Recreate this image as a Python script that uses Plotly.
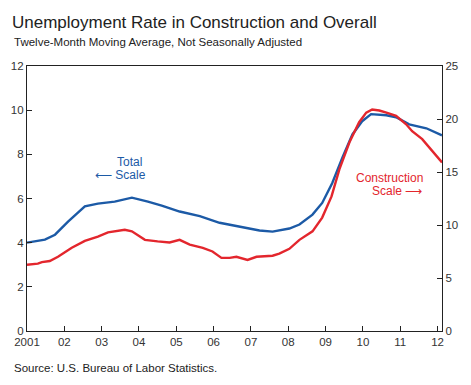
import plotly.graph_objects as go

# Total unemployment rate (left scale, percent), 12-month moving average
total_years = [2001.0, 2001.48, 2001.75, 2002.1, 2002.55, 2002.9, 2003.35, 2003.81, 2004.24,
               2004.61, 2005.09, 2005.63, 2006.16, 2006.7, 2007.23, 2007.58, 2008.03, 2008.3,
               2008.65, 2008.91, 2009.18, 2009.45, 2009.72, 2009.98, 2010.22, 2010.63, 2010.89,
               2011.24, 2011.7, 2012.12]
total_rate = [4.0, 4.14, 4.36, 4.95, 5.64, 5.77, 5.86, 6.04, 5.86,
              5.68, 5.41, 5.2, 4.9, 4.72, 4.55, 4.5, 4.64, 4.82,
              5.27, 5.8, 6.7, 7.85, 8.9, 9.5, 9.82, 9.77, 9.68,
              9.36, 9.18, 8.86]

# Construction unemployment rate (right scale, percent)
constr_years = [2001.0, 2001.29, 2001.4, 2001.61, 2001.83, 2002.2, 2002.55, 2002.9, 2003.17,
                2003.62, 2003.81, 2004.02, 2004.16, 2004.5, 2004.82, 2005.09, 2005.36, 2005.71,
                2005.97, 2006.21, 2006.43, 2006.61, 2006.91, 2007.15, 2007.58, 2007.76, 2008.03,
                2008.3, 2008.65, 2008.91, 2009.16, 2009.37, 2009.64, 2009.9, 2010.09, 2010.25,
                2010.44, 2010.63, 2010.89, 2011.16, 2011.32, 2011.59, 2011.86, 2012.12]
constr_rate = [6.25, 6.35, 6.5, 6.6, 7.0, 7.85, 8.5, 8.9, 9.3,
               9.55, 9.4, 8.9, 8.6, 8.45, 8.35, 8.6, 8.15, 7.85,
               7.5, 6.9, 6.9, 7.0, 6.7, 7.0, 7.1, 7.3, 7.75,
               8.6, 9.4, 10.7, 12.7, 15.25, 17.8, 19.7, 20.6, 20.9,
               20.8, 20.6, 20.3, 19.5, 18.85, 18.1, 17.0, 15.9]

x_tick_vals = list(range(2001, 2013))
x_tick_text = ["2001", "02", "03", "04", "05", "06", "07", "08", "09", "10", "11", "12"]
left_ticks = [0, 2, 4, 6, 8, 10, 12]
right_ticks = [0, 5, 10, 15, 20, 25]

BLUE = "#1c5aa6"
RED = "#e3262d"
FONT = "Liberation Sans, Arial, sans-serif"

fig = go.Figure()
fig.add_trace(go.Scatter(x=constr_years, y=constr_rate, mode="lines", yaxis="y2",
                         line=dict(color=RED, width=2.4), showlegend=False, hoverinfo="skip"))
fig.add_trace(go.Scatter(x=total_years, y=total_rate, mode="lines", yaxis="y",
                         line=dict(color=BLUE, width=2.4), showlegend=False, hoverinfo="skip"))

axis_common = dict(showgrid=False, zeroline=False, showline=True, linecolor="#222",
                   linewidth=1.3, ticks="inside", ticklen=5, tickcolor="#222",
                   automargin=False,
                   tickfont=dict(family=FONT, size=11.5, color="#333"))

# page body adds ~8px offset, so the figure is sized to fit the window after that offset
W, H = 463, 377
fig.update_layout(
    width=W, height=H,
    margin=dict(l=19, r=29, t=58, b=54, autoexpand=False),
    paper_bgcolor="white", plot_bgcolor="white",
    font=dict(family=FONT),
    title=dict(text="Unemployment Rate in Construction and Overall",
               x=4 / W, xanchor="left", y=1 - 14 / H, yanchor="middle",
               automargin=False,
               font=dict(family=FONT, size=17, color="#222")),
    xaxis=dict(range=[2001.0, 2012.12], tickvals=x_tick_vals, ticktext=x_tick_text,
               mirror=True, **axis_common),
    yaxis=dict(range=[0, 12], tickvals=left_ticks, mirror=False, **axis_common),
    yaxis2=dict(range=[0, 25], tickvals=right_ticks, overlaying="y", side="right",
                **axis_common),
)

annotations = [
    dict(text="Twelve-Month Moving Average, Not Seasonally Adjusted", xref="paper", yref="paper",
         x=-0.036, y=1.09, xanchor="left", yanchor="middle", showarrow=False,
         font=dict(family=FONT, size=11.5, color="#222")),
    dict(text="Source: U.S. Bureau of Labor Statistics.", xref="paper", yref="paper",
         x=-0.036, y=-0.14, xanchor="left", yanchor="middle", showarrow=False,
         font=dict(family=FONT, size=11.5, color="#222")),
    dict(text="Total", x=2003.75, y=7.64, xref="x", yref="y", showarrow=False,
         xanchor="center", yanchor="middle", font=dict(family=FONT, size=12, color=BLUE)),
    dict(text="⟵ Scale", x=2004.25, y=7.05, xref="x", yref="y", showarrow=False,
         xanchor="right", yanchor="middle", font=dict(family=FONT, size=12, color=BLUE)),
    dict(text="Construction", x=2010.71, y=6.95, xref="x", yref="y", showarrow=False,
         xanchor="center", yanchor="middle", font=dict(family=FONT, size=12, color=RED)),
    dict(text="Scale ⟶", x=2011.64, y=6.36, xref="x", yref="y", showarrow=False,
         xanchor="right", yanchor="middle", font=dict(family=FONT, size=12, color=RED)),
]
fig.update_layout(annotations=annotations)

fig.write_html("out.html")
